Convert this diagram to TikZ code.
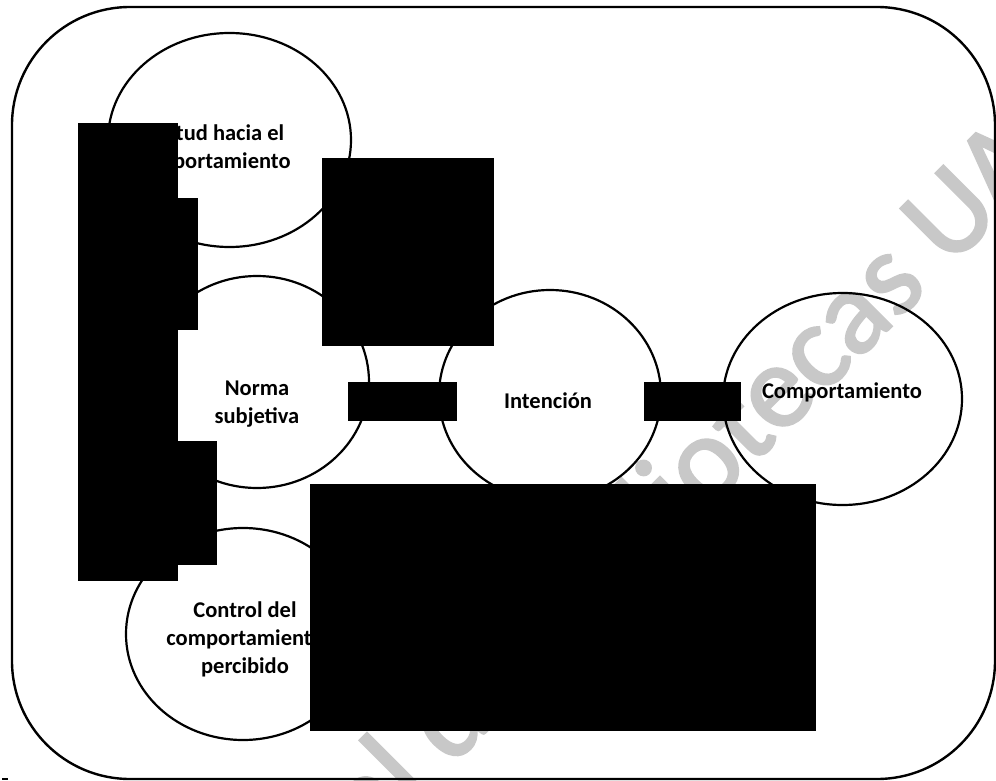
\documentclass[tikz,border=0pt]{standalone}
\usepackage{fontspec}
\setmainfont{Carlito}
\newfontface\stampfont[FakeBold=2]{Carlito}
\usetikzlibrary{shapes.geometric}
\definecolor{wmgray}{RGB}{200,200,200}
\begin{document}
\begin{tikzpicture}[x=1pt,y=-1pt,
  outline/.style={draw=black, line width=2.2pt},
  bubble/.style={outline, ellipse, inner sep=0pt},
  label/.style={font=\fontsize{22.5}{28}\selectfont\bfseries, align=center, inner sep=0pt},
  redact/.style={fill=black, draw=none},
  wmark/.style={text=wmgray, font=\stampfont\fontsize{120}{120}\selectfont, inner sep=0pt, rotate=45}]
\useasboundingbox (0,0) rectangle (996,781);

% diagonal library stamp behind everything
\begin{scope}
  \clip (0,0) rectangle (996,781);
  \node[wmark, anchor=base west] (wmB) at (687,531) {iotecas UAQ};
  \node[wmark, anchor=base east] (wmA) at (687,531) {Dirección General de Bibl};
\end{scope}

% outer frame
\draw[outline, line width=2.4pt, rounded corners=118pt] (12,7) rectangle (995,779);

% the five constructs
\node[bubble, minimum width=243pt, minimum height=214pt] (act)  at (229.5,140) {};
\node[bubble, minimum width=224pt, minimum height=212pt] (norm) at (257,382) {};
\node[bubble, minimum width=222pt, minimum height=210pt] (intn) at (550,395) {};
\node[bubble, minimum width=239pt, minimum height=212pt] (comp) at (842.5,399) {};
\node[bubble, minimum width=234pt, minimum height=212pt] (ctrl) at (243,634) {};

\node[label] (tact)  at (212,148) {Actitud hacia el\\comportamiento};
\node[label] (tnorm) at (257,404) {Norma\\subjetiva};
\node[label] (tintn) at (548,401) {Intención};
\node[label] (tcomp) at (842,392) {Comportamiento};
\node[label] (tctrl) at (245,639) {Control del\\comportamiento\\percibido};

% blacked-out areas
\fill[redact] (78,123) rectangle (178,581);
\fill[redact] (78,198) rectangle (198,330);
\fill[redact] (78,441) rectangle (217,565);
\fill[redact] (322,158) rectangle (494,346);
\fill[redact] (348,382) rectangle (457,421);
\fill[redact] (644,382) rectangle (741,421);
\fill[redact] (310,484) rectangle (816,731);

% small tick at the lower left
\fill (2,778) rectangle (8,780);
\end{tikzpicture}
\end{document}
